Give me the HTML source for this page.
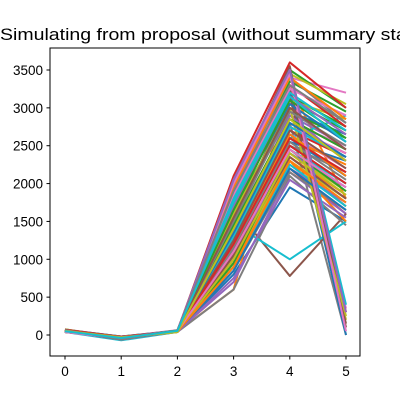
<!DOCTYPE html>
<html><head><meta charset="utf-8"><style>
body{margin:0;background:#fff;width:400px;height:400px;overflow:hidden}
svg{font-family:"Liberation Sans","DejaVu Sans",sans-serif;display:block}
</style></head><body>
<svg id="chart" width="400" height="400">
<text x="0" y="40" font-size="16.7" textLength="462" lengthAdjust="spacingAndGlyphs">Simulating from proposal (without summary statistics)</text>
<g id="lines"></g>
<rect x="50" y="48" width="310" height="308" fill="none" stroke="#000" stroke-width="1"/>
<g id="axes"></g>
</svg>
<script>
const xCategories=[0,1,2,3,4,5];
const xTicks=[0,1,2,3,4,5];
const yTicks=[0,500,1000,1500,2000,2500,3000,3500];
const s01=[60,-30,50,800,1950,1500];
const s02=[40,-50,45,600,3300,1800];
const s03=[70,-20,60,1800,3100,2700];
const s04=[55,-40,50,900,2200,1600];
const s05=[65,-35,55,1600,2900,2500];
const s06=[45,-60,40,1100,2500,2000];
const s07=[75,-25,65,2000,3400,3200];
const s08=[50,-45,50,1300,2800,0];
const s09=[60,-30,45,1700,3200,200];
const s10=[40,-70,40,1400,2600,2900];
const s11=[70,-20,55,1400,2600,2100];
const s12=[55,-50,50,1000,2300,1700];
const s13=[65,-40,60,1900,3500,3000];
const s14=[45,-35,45,1250,2750,2400];
const s15=[60,-55,50,700,2150,1600];
const s16=[50,-30,55,1690,780,1600];
const s17=[70,-60,45,2050,3300,350];
const s18=[40,-25,40,600,2100,1450];
const s19=[60,-45,55,1350,2400,1900];
const s20=[55,-35,50,1470,1000,1500];
const s21=[65,-50,60,1150,2550,2300];
const s22=[45,-30,45,950,2300,1500];
const s23=[75,-40,50,1850,3150,2750];
const s24=[50,-55,55,1450,2850,2450];
const s25=[60,-20,40,1050,2200,1750];
const s26=[40,-45,60,1750,3250,300];
const s27=[70,-35,50,1300,2650,2200];
const s28=[55,-60,45,850,2150,1650];
const s29=[65,-30,55,1950,3450,3050];
const s30=[45,-50,50,1200,2450,2000];
const s31=[60,-25,60,1600,2950,2650];
const s32=[50,-40,45,1000,2350,1850];
const s33=[70,-55,50,1800,3350,2950];
const s34=[40,-35,55,1400,2700,2350];
const s35=[65,-45,40,750,2050,1550];
const s36=[55,-30,60,2000,3550,100];
const s37=[60,-50,50,1500,2800,2500];
const s38=[45,-20,45,1150,2500,2150];
const s39=[75,-40,55,1700,3100,2850];
const s40=[50,-65,50,900,2250,1700];
const s41=[60,-35,60,1850,3200,0];
const s42=[65,-45,45,1300,2600,2250];
const s43=[40,-30,50,1650,2950,2600];
const s44=[70,-50,55,2100,3600,3000];
const s45=[55,-25,40,1100,2400,1950];
const s46=[60,-40,60,1450,3150,150];
const s47=[45,-55,50,1250,2750,2400];
const s48=[65,-35,45,1900,3400,2800];
const s49=[50,-45,55,1000,2300,1800];
const s50=[70,-30,50,2050,3500,400];
const s51=[60,-40,50,1550,3050,2550];
const s52=[45,-50,55,1200,2650,2100];
const s53=[65,-30,45,950,2450,1900];
const s54=[55,-60,60,1750,3300,2750];
const s55=[50,-35,50,1350,2900,2300];
const s56=[70,-45,45,1050,2350,1800];
const s57=[40,-25,55,1850,3250,2900];
const s58=[60,-55,50,1150,2550,2050];
const s59=[65,-40,40,1600,3000,250];
const s60=[55,-30,60,1300,2750,2350];
const s61=[45,-50,50,850,2200,1650];
const s62=[70,-35,55,1950,3400,2850];
const s63=[50,-45,45,1450,2850,2450];
const s64=[60,-25,50,1100,2500,2000];
const s65=[65,-60,55,1700,3150,2650];
const s66=[40,-40,45,1250,2700,2200];
const s67=[55,-30,60,2000,3450,50];
const s68=[70,-50,50,1500,2950,2500];
const s69=[45,-35,40,1000,2400,1850];
const s70=[60,-45,55,1800,3200,2700];
const s71=[50,-55,50,1350,2800,2350];
const s72=[65,-30,45,900,2300,1750];
const s73=[55,-40,60,1650,3100,2600];
const s74=[70,-25,50,1200,2600,2150];
const s75=[45,-50,55,2050,3500,300];
const s76=[60,-35,45,1550,3000,2450];
const s77=[40,-45,50,1100,2450,1950];
const s78=[65,-60,60,1900,3300,2800];
const s79=[55,-30,40,1400,2850,2300];
const s80=[50,-40,55,1750,3150,2550];
const series=[s01,s02,s03,s04,s05,s06,s07,s08,s09,s10,s11,s12,s13,s14,s15,s16,s17,s18,s19,s20,s21,s22,s23,s24,s25,s26,s27,s28,s29,s30,s31,s32,s33,s34,s35,s36,s37,s38,s39,s40,s41,s42,s43,s44,s45,s46,s47,s48,s49,s50,s51,s52,s53,s54,s55,s56,s57,s58,s59,s60,s61,s62,s63,s64,s65,s66,s67,s68,s69,s70,s71,s72,s73,s74,s75,s76,s77,s78,s79,s80];
const colors=['#1f77b4','#ff7f0e','#2ca02c','#d62728','#9467bd','#8c564b','#e377c2','#7f7f7f','#bcbd22','#17becf'];
const NS='http://www.w3.org/2000/svg';
function xs(v){return 65+v*56.2;}
function ys(v){return 335-v*(265/3500);}
const lg=document.getElementById('lines');
series.forEach((s,i)=>{
  const p=document.createElementNS(NS,'polyline');
  p.setAttribute('points',s.map((v,j)=>xs(xCategories[j])+','+ys(v)).join(' '));
  p.setAttribute('fill','none');
  p.setAttribute('stroke',colors[i%10]);
  p.setAttribute('stroke-width','2');
  p.setAttribute('stroke-linejoin','round');
  
  
  lg.appendChild(p);
});
const ax=document.getElementById('axes');
xTicks.forEach(t=>{
  const l=document.createElementNS(NS,'line');
  l.setAttribute('x1',xs(t));l.setAttribute('x2',xs(t));l.setAttribute('y1',356);l.setAttribute('y2',359.5);l.setAttribute('stroke','#000');
  
  
  ax.appendChild(l);
  const tx=document.createElementNS(NS,'text');
  tx.setAttribute('x',xs(t));tx.setAttribute('y',376);tx.setAttribute('font-size','13.5');tx.setAttribute('text-anchor','middle');
  tx.textContent=t;
  
  
  ax.appendChild(tx);
});
yTicks.forEach(t=>{
  const l=document.createElementNS(NS,'line');
  l.setAttribute('x1',46.5);l.setAttribute('x2',50);l.setAttribute('y1',ys(t));l.setAttribute('y2',ys(t));l.setAttribute('stroke','#000');
  
  
  ax.appendChild(l);
  const tx=document.createElementNS(NS,'text');
  tx.setAttribute('x',43);tx.setAttribute('y',ys(t)+5);tx.setAttribute('font-size','13.5');tx.setAttribute('text-anchor','end');
  tx.textContent=t;
  
  
  ax.appendChild(tx);
});
</script>
</body></html>
